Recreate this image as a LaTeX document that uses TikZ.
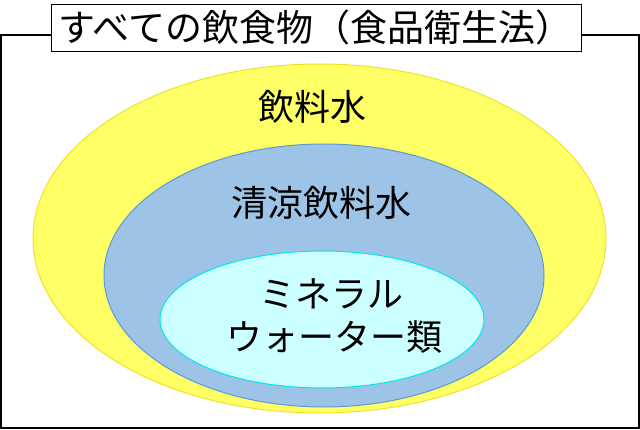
\documentclass[tikz,border=0pt]{standalone}
\usepackage{fontspec}
\setmainfont{Noto Sans CJK JP}
\usepackage{tikz}
\usetikzlibrary{shapes.geometric, positioning}

\definecolor{drinkfill}{RGB}{255,255,102}
\definecolor{drinkline}{RGB}{240,225,40}
\definecolor{softfill}{RGB}{157,195,230}
\definecolor{softline}{RGB}{91,155,213}
\definecolor{mineralfill}{RGB}{204,255,255}
\definecolor{mineralline}{RGB}{0,230,240}

\begin{document}
\begin{tikzpicture}[
        x=1pt, y=-1pt,
        % Set the overall look of the sets
        set/.style={ellipse, draw, line width=1pt, inner sep=0pt},
        label/.style={inner sep=0pt, font=\fontsize{36}{43}\selectfont},
        frame/.style={draw, line width=1.2pt}
    ]
    \useasboundingbox (0,0) rectangle (640,430);
    % outer frame and its title
    \draw[frame] (1,35) rectangle (639,428);
    \node[draw, fill=white, line width=0.9pt, inner sep=0pt,
        minimum width=530pt, minimum height=47pt] (titlebox) at (316,27.5) {};
    \node[label, anchor=west, font=\fontsize{37}{43}\selectfont]
        (title) at (58,27.5) {すべての飲食物（食品衛生法）};
    % nested sets
    \node[set, fill=drinkfill, draw=drinkline,
        minimum width=573pt, minimum height=349pt] (drink) at (319.5,238.5) {};
    \node[set, fill=softfill, draw=softline,
        minimum width=440pt, minimum height=263pt] (soft) at (324,275.5) {};
    \node[set, fill=mineralfill, draw=mineralline,
        minimum width=324pt, minimum height=137pt] (mineral) at (322,319.5) {};
    % labels
    \node[label] (drinktext) at (312,107) {飲料水};
    \node[label] (softtext) at (321,203) {清涼飲料水};
    \node[label] (mineraltext) at (331,294) {ミネラル};
    \node[label] (watertext) at (334,337.5) {ウォーター類};
\end{tikzpicture}
\end{document}
